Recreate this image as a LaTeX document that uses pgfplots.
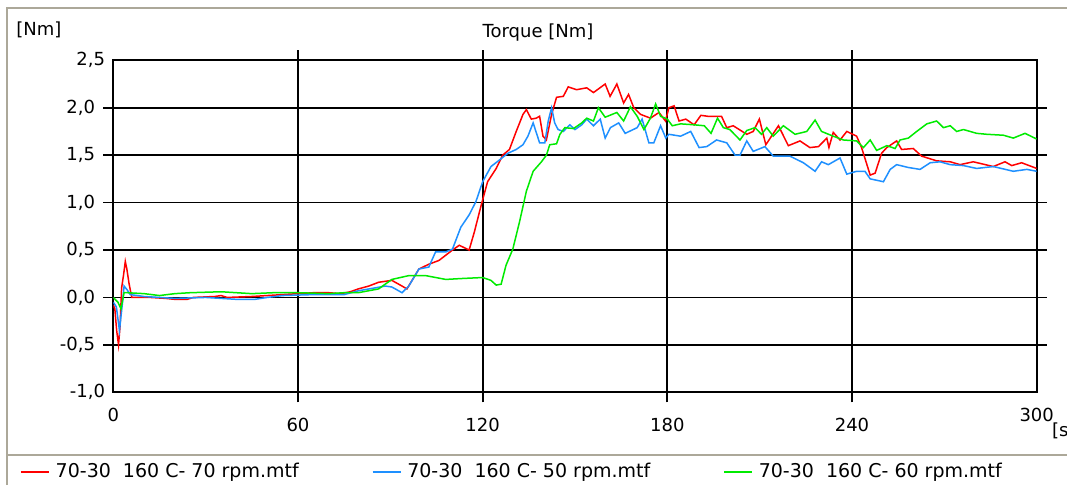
\documentclass[border=0pt]{standalone}
\usepackage{fontspec}
\setmainfont{DejaVu Sans}
\usepackage{pgfplots}
\pgfplotsset{compat=1.18}

\definecolor{trqred}{RGB}{255,0,0}
\definecolor{trqblue}{RGB}{30,144,255}
\definecolor{trqgreen}{RGB}{0,235,0}
\definecolor{framegray}{RGB}{172,168,153}

\begin{document}
\fontsize{18pt}{21pt}\selectfont
\begin{tikzpicture}[x=1pt,y=1pt]
\useasboundingbox (0,0) rectangle (1067,485);
\clip (0,0) rectangle (1067,485);
\fill[white] (0,0) rectangle (1067,485);
% window frame and legend separator
\draw[framegray, line width=1.5pt] (7,0) -- (7,477) -- (1067,477);
\draw[framegray, line width=1.5pt] (7,30) -- (1067,30);
\node at (39,455) {[Nm]};
\node at (538,452) {Torque [Nm]};
\node[anchor=west, inner sep=0pt] at (1052,54) {[s]};
\begin{axis}[
  at={(113.3pt,92.7pt)}, anchor=south west,
  scale only axis, width=923.4pt, height=332pt,
  xmin=0, xmax=300, ymin=-1, ymax=2.5,
  xtick={60,120,180,240}, extra x ticks={0,300},
  ytick={-0.5,0,0.5,1,1.5,2}, extra y ticks={-1,2.5},
  extra tick style={major tick length=0pt},
  grid=major,
  major grid style={black, line width=1.8pt},
  axis line style={black, line width=1.8pt},
  tick align=outside, major tick length=10pt,
  tick style={black, line width=1.8pt},
  /pgf/number format/assume math mode=true,
  xticklabel style={yshift=-10pt, /pgf/number format/.cd, fixed, precision=0},
  yticklabel style={xshift=-2pt, /pgf/number format/.cd, fixed, fixed zerofill, precision=1, use comma},
  legend columns=3,
  legend cell align=left,
  legend image code/.code={\draw[#1, line width=1.5pt] (0pt,0pt) -- (28pt,0pt);},
  legend style={at={(axis description cs:-0.101,-0.24)}, anchor=west,
    draw=none, fill=none, inner sep=0pt, font=\fontsize{19pt}{22pt}\selectfont,
    /tikz/every odd column/.append style={column sep=4pt},
    /tikz/every even column/.append style={column sep=71pt}},
  every axis plot/.append style={line width=1.5pt},
]
% 70 rpm
\addplot[trqred] coordinates {
(0,-0.08) (0.5,-0.12) (1.1,-0.35) (1.7,-0.50) (2.2,-0.30) (2.7,0.10) (3.3,0.23)
(3.9,0.38) (4.4,0.30) (5.1,0.15) (6.0,0.00) (12,0.00) (17,-0.01) (20,-0.02)
(24,-0.02) (26,0.00) (33,0.01) (35,0.02) (37,0.00) (45,0.01) (50,0.02) (55,0.03)
(60,0.04) (65,0.05) (70,0.05) (74,0.04) (77,0.06) (79.6,0.09) (83,0.12)
(86.2,0.16) (90.5,0.18) (93.8,0.12) (95.4,0.09) (99.3,0.30) (102.5,0.35)
(105.8,0.39) (110.2,0.50) (112.4,0.55) (115.6,0.50) (117.3,0.69) (119.5,0.97)
(121.6,1.22) (124.4,1.36) (126.5,1.50) (128.7,1.56) (130.9,1.75) (133.1,1.93)
(134.2,1.98) (135.8,1.88) (137.4,1.89) (138.5,1.91) (139.6,1.70) (140.7,1.66)
(142.4,1.93) (144.0,2.11) (146.2,2.12) (147.8,2.22) (150.5,2.19) (153.8,2.21)
(156.0,2.16) (159.8,2.25) (161.4,2.12) (163.6,2.25) (165.8,2.05) (167.4,2.14)
(169.1,2.00) (171.3,1.93) (174.5,1.89) (177.3,1.95) (179.4,1.86) (180.5,2.00)
(182.2,2.02) (183.8,1.86) (186.0,1.88) (188.7,1.82) (190.9,1.92) (193.1,1.91)
(197.6,1.91) (199.3,1.79) (201.4,1.81) (205.8,1.72) (207.9,1.75) (209.9,1.88)
(212.0,1.61) (216.1,1.81) (219.3,1.60) (223.1,1.65) (226.3,1.58) (229.1,1.59)
(231.8,1.68) (232.5,1.58) (233.9,1.74) (236.1,1.66) (238.3,1.75) (241.5,1.70)
(243.1,1.58) (245.9,1.29) (247.5,1.31) (249.6,1.52) (251.3,1.58) (254.5,1.65)
(256.1,1.56) (259.9,1.57) (262.6,1.49) (267.5,1.44) (271.9,1.43) (275.1,1.40)
(279.4,1.43) (285.9,1.38) (289.7,1.43) (291.9,1.39) (295.1,1.42) (300,1.36)
};
\addlegendentry{70-30\ \ 160 C- 70 rpm.mtf}
% 50 rpm
\addplot[trqblue] coordinates {
(0,-0.05) (1.0,-0.10) (2.0,-0.35) (3.0,-0.05) (3.5,0.12) (4.5,0.08) (5.5,0.03)
(10,0.01) (20,-0.01) (30,0.00) (40,-0.02) (46,-0.02) (50,0.00) (55,0.02)
(65,0.03) (75,0.03) (79.6,0.07) (88.4,0.12) (90.5,0.11) (93.8,0.05) (96.0,0.12)
(99.3,0.30) (102.5,0.32) (104.7,0.48) (108.0,0.48) (110.2,0.51) (112.9,0.74)
(115.6,0.87) (117.8,1.01) (120.0,1.22) (122.7,1.38) (125.5,1.45) (128.2,1.52)
(130.9,1.56) (133.1,1.61) (134.7,1.70) (136.4,1.84) (138.5,1.63) (140.2,1.63)
(141.3,1.86) (142.4,2.00) (143.4,1.84) (144.5,1.77) (146.2,1.75) (148.3,1.82)
(150.0,1.77) (152.2,1.82) (153.8,1.88) (156.0,1.81) (158.2,1.88) (159.8,1.68)
(161.5,1.79) (164.2,1.84) (166.3,1.73) (170.2,1.79) (171.8,1.88) (174.0,1.63)
(175.6,1.63) (177.8,1.81) (179.5,1.68) (180.5,1.72) (184.3,1.70) (187.6,1.75)
(190.3,1.58) (192.8,1.59) (196.0,1.66) (199.3,1.63) (202.0,1.50) (203.6,1.50)
(205.8,1.65) (207.9,1.54) (211.7,1.59) (214.4,1.49) (219.8,1.49) (224.2,1.42)
(228.0,1.33) (230.1,1.43) (232.3,1.40) (236.1,1.47) (238.3,1.30) (241.5,1.33)
(244.2,1.33) (245.9,1.25) (250.2,1.22) (252.4,1.35) (254.5,1.40) (258.3,1.37)
(262.1,1.35) (265.4,1.42) (268.6,1.43) (271.9,1.40) (276.2,1.39) (280.5,1.36)
(285.9,1.38) (292.4,1.33) (296.8,1.35) (300,1.33)
};
\addlegendentry{70-30\ \ 160 C- 50 rpm.mtf}
% 60 rpm
\addplot[trqgreen] coordinates {
(0,0.00) (1.5,-0.05) (2.5,-0.12) (3.5,0.05) (4.5,0.05) (10,0.04) (15,0.02)
(20,0.04) (25,0.05) (35,0.06) (45,0.04) (52,0.05) (60,0.05) (70,0.04) (75,0.05)
(79.6,0.05) (86.2,0.09) (90.5,0.19) (96.0,0.23) (101.5,0.23) (108.0,0.19)
(113.5,0.20) (120.0,0.21) (122.7,0.18) (124.4,0.13) (126.0,0.14) (127.6,0.34)
(129.8,0.51) (132.0,0.80) (134.2,1.12) (136.4,1.33) (139.1,1.43) (140.7,1.50)
(141.8,1.61) (144.0,1.62) (145.1,1.72) (146.7,1.79) (149.5,1.78) (152.2,1.84)
(153.8,1.89) (156.0,1.86) (157.6,2.00) (159.8,1.90) (163.6,1.95) (165.8,1.86)
(168.0,2.01) (170.2,1.91) (172.4,1.77) (174.5,1.89) (176.2,2.04) (177.8,1.91)
(180.0,1.88) (181.6,1.81) (184.3,1.83) (188.7,1.82) (192.0,1.81) (194.2,1.73)
(196.3,1.89) (198.2,1.79) (200.3,1.77) (203.6,1.66) (205.8,1.76) (208.5,1.79)
(210.6,1.72) (212.3,1.79) (214.4,1.70) (217.7,1.81) (221.5,1.72) (225.3,1.75)
(228.0,1.87) (230.1,1.75) (233.9,1.70) (237.2,1.66) (241.5,1.65) (243.7,1.58)
(245.9,1.66) (248.0,1.55) (251.3,1.60) (254.0,1.57) (255.6,1.66) (258.3,1.68)
(261.0,1.75) (264.3,1.83) (267.5,1.86) (269.7,1.79) (271.9,1.81) (274.0,1.75)
(276.2,1.77) (280.5,1.73) (283.8,1.72) (289.2,1.71) (292.4,1.68) (296.2,1.73)
(300,1.67)
};
\addlegendentry{70-30\ \ 160 C- 60 rpm.mtf}
\end{axis}
\end{tikzpicture}
\end{document}
